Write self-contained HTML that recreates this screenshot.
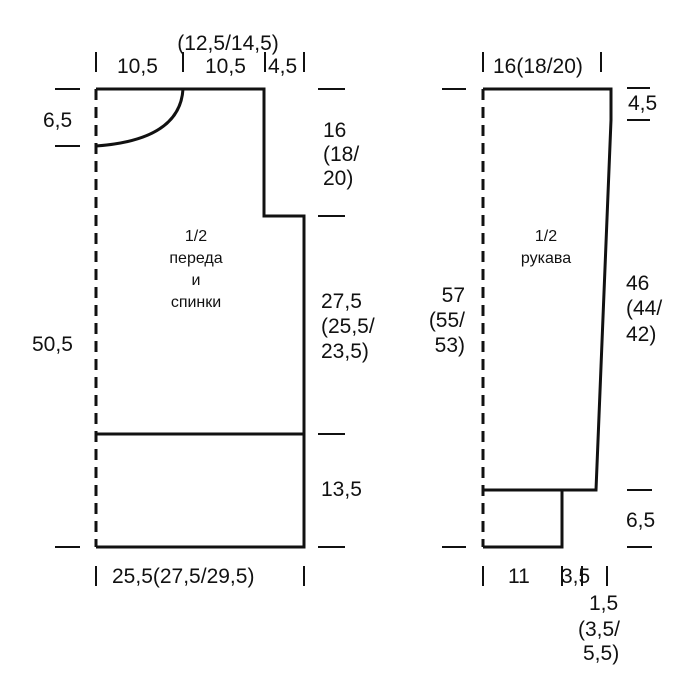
<!DOCTYPE html>
<html><head><meta charset="utf-8"><style>
html,body{margin:0;padding:0;background:#fff}
svg{display:block}
text{font-family:"Liberation Sans",sans-serif;font-size:21px;fill:#111}
.n{font-family:"Liberation Sans Narrow","Liberation Sans",sans-serif;font-size:16px;text-anchor:middle}
</style></head><body>
<svg width="695" height="692" viewBox="0 0 695 692" xmlns="http://www.w3.org/2000/svg">
<g stroke="#111" stroke-width="3" fill="none">
<path d="M96 89 H264 V216 H304 V547 H96"/>
<path d="M183 89 Q180 140 96 146"/>
<path d="M96 434 H304"/>
<path d="M96 89 V547" stroke-dasharray="11 7"/>
<path d="M483 89 H611 V120 L596 490 H483"/>
<path d="M562 490 V547 H483"/>
<path d="M483 89 V547" stroke-dasharray="11 7"/>
</g>
<g stroke="#111" stroke-width="2">
<path d="M55 89H80M55 146H80M55 547H80"/>
<path d="M318 89H345M318 216H345M318 434H345M318 547H345"/>
<path d="M442 89H466M442 547H466"/>
<path d="M627 88H650M627 120H650M627 490H652M627 547H652"/>
<path d="M96 52V72M183 52V72M265 52V72M304 52V72"/>
<path d="M96 566V586M304 566V586"/>
<path d="M483 52V72M601 52V72"/>
<path d="M483 566V586M562 566V586M582 566V586M607 566V586"/>
</g>
<text x="228" y="50" text-anchor="middle">(12,5/14,5)</text>
<text x="117" y="73">10,5</text>
<text x="205" y="73">10,5</text>
<text x="268" y="73">4,5</text>
<text x="43" y="127">6,5</text>
<text x="323" y="137">16</text>
<text x="323" y="161">(18/</text>
<text x="323" y="185">20)</text>
<text x="321" y="308">27,5</text>
<text x="321" y="333">(25,5/</text>
<text x="321" y="358">23,5)</text>
<text x="32" y="351">50,5</text>
<text x="321" y="496">13,5</text>
<text x="112" y="583">25,5(27,5/29,5)</text>
<text x="493" y="73">16(18/20)</text>
<text x="628" y="110">4,5</text>
<text x="465" y="302" text-anchor="end">57</text>
<text x="465" y="327" text-anchor="end">(55/</text>
<text x="465" y="352" text-anchor="end">53)</text>
<text x="626" y="290">46</text>
<text x="626" y="315">(44/</text>
<text x="626" y="341">42)</text>
<text x="626" y="527">6,5</text>
<text x="508" y="583">11</text>
<text x="561" y="583">3,5</text>
<text x="589" y="610">1,5</text>
<text x="578" y="636">(3,5/</text>
<text x="583" y="660">5,5)</text>
<text class="n" x="196" y="241">1/2</text>
<text class="n" x="196" y="263">переда</text>
<text class="n" x="196" y="285">и</text>
<text class="n" x="196" y="307">спинки</text>
<text class="n" x="546" y="241">1/2</text>
<text class="n" x="546" y="263">рукава</text>
</svg>
</body></html>
